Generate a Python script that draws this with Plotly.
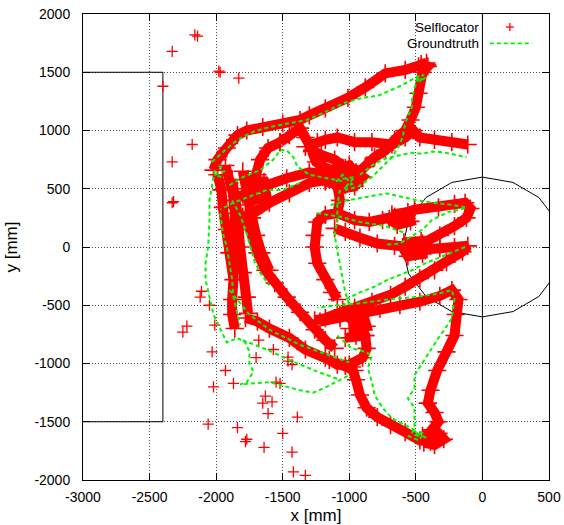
import numpy as np
import plotly.graph_objects as go

# ---------------- data (mm) ----------------
RED_TOP_LOOP = [(-2020,660),(-1990,750),(-1920,850),(-1840,960),(-1770,1000),(-1650,1030),(-1500,1060),
                (-1370,1090),(-1300,1130),(-1180,1190),(-1010,1280),(-880,1370),(-730,1490),(-580,1520),
                (-480,1550),(-420,1580),(-460,1570),(-410,1550),(-450,1500),(-480,1320),(-500,1200),(-540,1090),
                (-580,1000),(-660,920),(-730,830),(-810,770),(-880,690),(-960,590),(-1030,530)]
RED_ARM = [(-1330,860),(-1240,900),(-1180,920),(-1090,940),(-960,900),(-830,900),(-680,880),(-580,940),
           (-520,1000),(-470,940),(-360,920),(-230,900),(-110,880)]
RED_Y = [(-1520,900),(-1450,960),(-1370,1020),(-1330,940),(-1280,830),(-1210,790),(-1110,750),(-1030,680)]
RED_BOX = [(-1280,820),(-1250,730),(-1180,680),(-1090,640),(-990,620)]
RED_CENTER = [(-1150,580),(-1070,640),(-980,660),(-900,600),(-960,520),(-1060,500),(-1110,570)]
RED_CENTER_BLOB = [(-1200,600),(-1100,680),(-1000,700),(-950,640),(-1000,560),(-1100,540),(-1180,560)]
RED_DIAG_UP = [(-1900,400),(-1800,450),(-1710,490),(-1620,530),(-1470,590),(-1300,640),(-1150,620),(-1030,580)]
RED_DIAG_LOW = [(-1800,260),(-1720,290),(-1600,380),(-1450,460),(-1300,550),(-1180,575)]
RED_BAND_B = [(-1760,360),(-1730,490),(-1690,620),(-1670,750),(-1610,850),(-1520,900)]
RED_LEFT_BLOB = [(-1760,580),(-1640,560),(-1620,420),(-1740,400),(-1760,580)]
RED_TRI_LEFT = [(-1090,530),(-1070,400),(-1090,290),(-1180,275),(-1240,215),(-1260,100),(-1260,0),
                (-1240,-140),(-1180,-280),(-1130,-390),(-1090,-450)]
RED_TRI_UP = [(-1090,290),(-960,230),(-850,215),(-750,230),(-660,260),(-510,320),(-330,340),(-210,370),
              (-130,380),(-90,330),(-120,250),(-210,180),(-320,100),(-450,30),(-560,0),(-660,10),
              (-790,30),(-920,80),(-1030,130),(-1110,160)]
RED_TRI_BLOB = [(-680,280),(-560,300),(-540,220),(-640,190),(-700,240)]
RED_TRI_LOW = [(-540,-30),(-430,-30),(-320,-10),(-210,0),(-110,10),(-150,-40),(-270,-130),(-360,-200),
               (-470,-270),(-580,-340),(-690,-410),(-830,-470),(-960,-520),(-1070,-580),(-1180,-610),(-1260,-630)]
RED_LOW_BLOB = [(-590,40),(-460,50),(-450,-60),(-560,-80),(-600,0)]
RED_RIGHT_LOOP = [(-1220,-640),(-1070,-610),(-920,-570),(-770,-530),(-620,-500),(-470,-470),(-320,-420),
                  (-230,-370),(-180,-450),(-200,-580),(-210,-760),(-270,-900),(-340,-1060),(-390,-1230),
                  (-410,-1340),(-360,-1420),(-330,-1500),(-380,-1570),(-340,-1640),(-390,-1670),(-470,-1660),
                  (-580,-1590),(-690,-1530),(-790,-1460),(-870,-1380),(-920,-1270),(-950,-1140),(-980,-1030)]
RED_BOTTOM_BLOB = [(-450,-1620),(-330,-1600),(-290,-1650),(-360,-1700),(-440,-1680)]
RED_HOOK = [(-1050,-540),(-1000,-610),(-920,-670),(-880,-760),(-870,-870),(-900,-950),(-1000,-1010),
            (-1090,-1010),(-1150,-970)]
RED_HOOK_IN = [(-880,-760),(-950,-760),(-1030,-780)]
RED_HOOK_BLOB = [(-1040,-560),(-900,-560),(-870,-680),(-1000,-700)]
RED_DIAG_HOOK = [(-1780,-610),(-1690,-640),(-1600,-700),(-1450,-780),(-1330,-880),(-1180,-950),
                 (-1030,-1020),(-960,-1060)]
RED_DIAG_MID = [(-1780,270),(-1750,150),(-1690,-50),(-1630,-200),(-1560,-310),(-1470,-430),(-1370,-560),
                (-1260,-710),(-1180,-800),(-1110,-870)]
RED_LEFT_A = [(-1990,620),(-1960,490),(-1950,340),(-1920,150),(-1900,-50),(-1870,-280),(-1880,-450),
              (-1880,-580),(-1860,-700)]
RED_LEFT_B = [(-1880,580),(-1840,290),(-1820,0),(-1800,-220),(-1770,-430),(-1760,-570)]
RED_LEFT_D = [(-1930,700),(-1900,550),(-1860,400),(-1860,200),(-1850,0),(-1840,-200)]
RED_LEFT_E = [(-1800,650),(-1780,500),(-1760,400),(-1730,250),(-1700,100),(-1660,-50),(-1600,-200)]

RED_OUTLIERS = [(-2160,1820),(-2140,1810),(-2330,1680),(-1980,1510),(-1970,1500),(-1830,1450),(-2400,1380),
                (-2180,880),(-2330,730),(-2330,380),(-2320,390),(-2110,-380),(-2120,-430),(-2050,-500),
                (-2220,-680),(-2250,-730),(-2010,-670),(-2030,-900),(-1700,-950),(-1930,-1060),(-2020,-1200),
                (-1870,-1170),(-1550,-1160),(-1520,-1170),(-1630,-1280),(-1580,-1330),(-1650,-1340),
                (-1610,-1430),(-1390,-1460),(-2060,-1520),(-1840,-1550),(-1770,-1650),(-1780,-1670),
                (-1500,-1600),(-1640,-1720),(-1430,-1760),(-1420,-1930),(-1330,-1960),(-1680,-800),
                (-1570,-880),(-1460,-980),(-1430,-1010),(-1460,-945)]

GREEN_TOP_LOOP = [(-2030,730),(-1950,815),(-1840,920),(-1720,990),(-1600,1030),(-1450,1060),(-1320,1090),
                  (-1180,1160),(-1030,1240),(-900,1280),(-780,1300),(-680,1350),(-600,1390),(-510,1450),
                  (-470,1470),(-510,1370),(-530,1260),(-530,1200),(-560,1120),(-580,1060),(-600,940),
                  (-630,860),(-680,770),(-750,690),(-830,600),(-930,520),(-1030,490)]
GREEN_ARM = [(-920,620),(-830,700),(-730,760),(-620,790),(-530,810),(-450,800),(-380,820),(-280,810),
             (-200,790),(-120,770)]
GREEN_DIAG_LOW = [(-1370,550),(-1500,490),(-1620,490),(-1750,430),(-1870,380),(-1970,320)]
GREEN_DIAG_UP = [(-1900,530),(-1800,600),(-1670,660),(-1570,750),(-1520,830),(-1470,830),(-1420,770),
                 (-1390,690),(-1300,620),(-1150,590),(-1030,560)]
GREEN_LEFT_OUTER = [(-2010,660),(-2050,400),(-2050,230),(-2060,0),(-2080,-140),(-2080,-280),(-2050,-430),
                    (-2020,-580),(-1970,-700),(-1920,-820),(-1840,-780),(-1780,-820),(-1750,-900),
                    (-1750,-1000),(-1720,-1070),(-1770,-1160),(-1820,-1180),(-1600,-1160),(-1370,-1230),
                    (-1270,-1250),(-1170,-1200),(-1070,-1140),(-1000,-1100)]
GREEN_LEFT_MID = [(-1970,290),(-1950,120),(-1920,0),(-1900,-140),(-1880,-280),(-1870,-430),(-1840,-570),
                  (-1820,-670)]
GREEN_LEFT_IN = [(-1880,400),(-1820,275),(-1780,150),(-1750,20),(-1710,-130),(-1660,-240),(-1600,-330)]
GREEN_DIAG_A = [(-1900,-370),(-1750,-580),(-1600,-710),(-1370,-840),(-1150,-930),(-1000,-990)]
GREEN_DIAG_B = [(-1800,-800),(-1620,-880),(-1450,-970),(-1240,-1070),(-1070,-1140)]
GREEN_RIGHT_LOOP = [(-1090,-760),(-980,-870),(-880,-900),(-830,-930),(-860,-1040),(-830,-1160),(-810,-1270),
                    (-750,-1380),(-680,-1470),(-580,-1530),(-510,-1570),(-470,-1630),(-530,-1600),
                    (-510,-1530),(-510,-1380),(-560,-1300),(-510,-1210),(-510,-1100),(-450,-990),
                    (-380,-870),(-330,-780),(-280,-700),(-230,-610),(-210,-450),(-230,-370),(-330,-400),
                    (-510,-430),(-710,-450),(-900,-480),(-1090,-500),(-1240,-520)]
GREEN_LOW_ARM = [(-130,0),(-240,-50),(-330,-90),(-430,-140),(-530,-200),(-620,-240),(-710,-280),
                 (-810,-340),(-920,-390),(-1030,-450)]
GREEN_TRI_TOP = [(-1140,360),(-1020,400),(-870,430),(-720,460),(-600,430),(-490,400),(-370,380),
                 (-220,360),(-120,340),(-170,320),(-260,300),(-380,230),(-450,150),(-530,90),(-620,30),
                 (-730,20)]
GREEN_TRI_MID = [(-1240,290),(-1070,260),(-920,215),(-730,180),(-580,120)]
GREEN_VERT = [(-1070,490),(-1090,360),(-1090,230),(-1110,100),(-1090,-30),(-1070,-150),(-1050,-280),
              (-1030,-390),(-1000,-500)]
GREEN_STAR_CENTER = [(-1100,560),(-1050,620),(-980,540),(-1040,500),(-960,600),(-1080,580)]
GREEN_STAR_TOP = [(-500,1430),(-440,1480),(-470,1420),(-420,1460)]
GREEN_STAR_BOTTOM = [(-560,-1620),(-480,-1660),(-440,-1600),(-520,-1580),(-420,-1640)]
GREEN_STAR_LEFT = [(-1980,700),(-1940,650),(-2010,620),(-1960,600)]

RED_SEGMENTS = [RED_TOP_LOOP, RED_ARM, RED_Y, RED_BOX, RED_CENTER, RED_CENTER_BLOB, RED_DIAG_UP,
                RED_DIAG_LOW, RED_BAND_B, RED_LEFT_BLOB, RED_TRI_LEFT, RED_TRI_UP, RED_TRI_BLOB,
                RED_TRI_LOW, RED_LOW_BLOB, RED_RIGHT_LOOP, RED_BOTTOM_BLOB, RED_HOOK, RED_HOOK_IN,
                RED_HOOK_BLOB, RED_DIAG_HOOK, RED_DIAG_MID, RED_LEFT_A, RED_LEFT_B, RED_LEFT_D, RED_LEFT_E]
GREEN_SEGMENTS = [GREEN_TOP_LOOP, GREEN_ARM, GREEN_DIAG_LOW, GREEN_DIAG_UP, GREEN_LEFT_OUTER,
                  GREEN_LEFT_MID, GREEN_LEFT_IN, GREEN_DIAG_A, GREEN_DIAG_B, GREEN_RIGHT_LOOP,
                  GREEN_LOW_ARM, GREEN_TRI_TOP, GREEN_TRI_MID, GREEN_VERT, GREEN_STAR_CENTER,
                  GREEN_STAR_TOP, GREEN_STAR_BOTTOM, GREEN_STAR_LEFT]

X_TICKS = [-3000, -2500, -2000, -1500, -1000, -500, 0, 500]
Y_TICKS = [-2000, -1500, -1000, -500, 0, 500, 1000, 1500, 2000]

CIRCLE_R = 600
CIRCLE_SIDES = 16


def join(segs):
    xs, ys = [], []
    for s in segs:
        xs += [p[0] for p in s] + [None]
        ys += [p[1] for p in s] + [None]
    return xs, ys


rx, ry = join(RED_SEGMENTS)
gx, gy = join(GREEN_SEGMENTS)
ox = [p[0] for p in RED_OUTLIERS]
oy = [p[1] for p in RED_OUTLIERS]

RED = "#ff0000"
GREEN = "#00f500"
FONT = "Liberation Sans, Arial, Helvetica, sans-serif"

fig = go.Figure()
# dense band of the self-locator estimates
fig.add_trace(go.Scatter(x=rx, y=ry, mode="lines", line=dict(color=RED, width=10),
                         showlegend=False, hoverinfo="skip"))
fig.add_trace(go.Scatter(x=rx, y=ry, mode="markers", name="Selflocator",
                         marker=dict(symbol="cross-thin", size=13, color=RED,
                                     line=dict(color=RED, width=1.6)),
                         showlegend=False))
fig.add_trace(go.Scatter(x=ox, y=oy, mode="markers", name="Selflocator",
                         marker=dict(symbol="cross-thin", size=8, color=RED,
                                     line=dict(color=RED, width=1.3)),
                         showlegend=False))
fig.add_trace(go.Scatter(x=gx, y=gy, mode="lines", name="Groundtruth",
                         line=dict(color=GREEN, width=2, dash="4px,3px"),
                         showlegend=False))

# field lines
angles = np.deg2rad(np.arange(CIRCLE_SIDES + 1) * 360.0 / CIRCLE_SIDES)
cpath = "M " + " L ".join(f"{CIRCLE_R*np.cos(a):.1f},{CIRCLE_R*np.sin(a):.1f}" for a in angles) + " Z"
shapes = [
    dict(type="path", xref="x", yref="y", path=cpath, line=dict(color="black", width=1), layer="between"),
    dict(type="path", xref="x", yref="y", path="M -3000,1500 L -2400,1500 L -2400,-1500 L -3000,-1500",
         line=dict(color="black", width=1), layer="between"),
    dict(type="line", xref="x", yref="y", x0=0, x1=0, y0=-2000, y1=2000,
         line=dict(color="black", width=1), layer="between"),
]

# key (text left of sample, gnuplot style)
kx_red, ky_red = 0.916, 0.972
d = 4 / 466
shapes += [
    dict(type="line", xref="paper", yref="paper", x0=kx_red - d, x1=kx_red + d, y0=ky_red, y1=ky_red,
         line=dict(color=RED, width=1.3)),
    dict(type="line", xref="paper", yref="paper", x0=kx_red, x1=kx_red, y0=ky_red - d, y1=ky_red + d,
         line=dict(color=RED, width=1.3)),
    dict(type="line", xref="paper", yref="paper", x0=0.873, x1=0.964, y0=0.937, y1=0.937,
         line=dict(color=GREEN, width=1.8, dash="4px,3px")),
]
annotations = [
    dict(text="Selflocator", xref="paper", yref="paper", x=0.851, y=0.972, xanchor="right", yanchor="middle",
         showarrow=False, font=dict(family=FONT, size=13.5, color="black"), borderpad=0),
    dict(text="Groundtruth", xref="paper", yref="paper", x=0.851, y=0.937, xanchor="right", yanchor="middle",
         showarrow=False, font=dict(family=FONT, size=13.5, color="black"), borderpad=0),
]

axis_common = dict(showline=True, linecolor="black", linewidth=1, mirror="ticks", ticks="inside",
                   ticklen=7, tickcolor="black", showgrid=True, gridcolor="rgba(0,0,0,0.7)",
                   griddash="1px,2px", gridwidth=1, zeroline=False, automargin=False,
                   tickfont=dict(family=FONT, size=14, color="black"))

fig.update_layout(
    width=564, height=525,
    margin=dict(l=83, r=15, t=14, b=45),
    paper_bgcolor="white", plot_bgcolor="white",
    font=dict(family=FONT, size=14, color="black"),
    shapes=shapes, annotations=annotations,
    xaxis=dict(range=[-3000, 500], tickvals=X_TICKS, ticktext=[str(v) for v in X_TICKS],
               title=dict(text="x [mm]", standoff=6), ticklabelstandoff=4, **axis_common),
    yaxis=dict(range=[-2000, 2000], tickvals=Y_TICKS, ticktext=[str(v) for v in Y_TICKS],
               title=dict(text="y [mm]", standoff=12), ticklabelstandoff=9, **axis_common),
)

fig.write_html("out.html")
